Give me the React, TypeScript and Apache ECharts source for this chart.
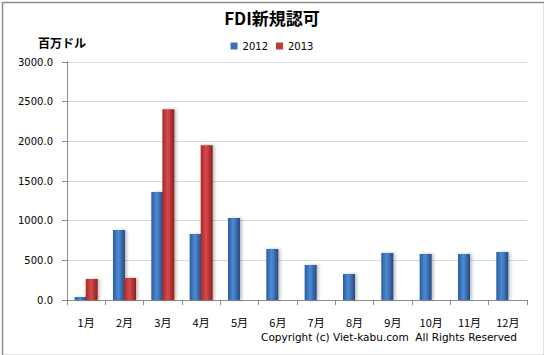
import React, { useEffect, useRef } from "react";
import * as echarts from "echarts";

const categories = ["1月", "2月", "3月", "4月", "5月", "6月", "7月", "8月", "9月", "10月", "11月", "12月"];
const series2012 = [38, 883, 1362, 832, 1034, 643, 441, 328, 593, 580, 580, 605];
const series2013: (number | null)[] = [265, 277, 2405, 1950, null, null, null, null, null, null, null, null];
const yTicks = [0, 500, 1000, 1500, 2000, 2500, 3000];

const blueGrad = new echarts.graphic.LinearGradient(0, 0, 1, 0, [
  { offset: 0, color: "#2d5c9e" },
  { offset: 0.45, color: "#4d8bd6" },
  { offset: 1, color: "#24497e" },
]);
const redGrad = new echarts.graphic.LinearGradient(0, 0, 1, 0, [
  { offset: 0, color: "#a42a2a" },
  { offset: 0.45, color: "#d84a4a" },
  { offset: 1, color: "#8a2020" },
]);

export default function App() {
  const ref = useRef<HTMLDivElement>(null);
  useEffect(() => {
    document.body.style.margin = "0";
    const chart = echarts.init(ref.current!, null, { renderer: "svg" });
    const font = "DejaVu Sans";
    chart.setOption({
      animation: false,
      backgroundColor: "#ffffff",
      title: {
        text: "FDI新規認可",
        left: "center",
        top: 4,
        textStyle: { fontFamily: "Noto Sans CJK JP", fontSize: 17, fontWeight: "bold", color: "#000" },
      },
      legend: {
        top: 36,
        left: "center",
        itemWidth: 7,
        itemHeight: 7,
        itemGap: 8,
        icon: "rect",
        textStyle: { fontFamily: font, fontSize: 10, color: "#000" },
        data: [
          { name: "2012", itemStyle: { color: "#3a70b8" } },
          { name: "2013", itemStyle: { color: "#c03a3a" } },
        ],
      },
      graphic: [
        {
          type: "rect",
          left: 0,
          top: 0,
          shape: { width: 542, height: 353 },
          style: { fill: "none", stroke: "#8c8c8c", lineWidth: 1.5 },
        },
        {
          type: "text",
          left: 38,
          top: 36,
          style: { text: "百万ドル", fontFamily: "Noto Sans CJK JP", fontSize: 12, fontWeight: "bold", fill: "#000" },
        },
        {
          type: "text",
          right: 27,
          top: 331,
          style: {
            text: "Copyright (c) Viet-kabu.com  All Rights Reserved",
            fontFamily: font,
            fontSize: 10.5,
            fill: "#000",
          },
        },
      ],
      grid: { left: 67, right: 17, top: 62, bottom: 55, containLabel: false },
      xAxis: {
        type: "category",
        data: categories,
        axisLine: { lineStyle: { color: "#8c8c8c" } },
        axisTick: { show: true, length: 5, lineStyle: { color: "#8c8c8c" } },
        axisLabel: { margin: 16, fontFamily: "Noto Sans CJK JP", fontSize: 11, color: "#000" },
      },
      yAxis: {
        type: "value",
        min: 0,
        max: 3000,
        interval: 500,
        axisLine: { show: true, lineStyle: { color: "#8c8c8c" } },
        axisTick: { show: true, length: 5, lineStyle: { color: "#8c8c8c" } },
        splitLine: { lineStyle: { color: "#d9d9d9" } },
        axisLabel: {
          fontFamily: font,
          fontSize: 10,
          color: "#000",
          margin: 14,
          formatter: (v: number) => (yTicks.includes(v) ? v.toFixed(1) : ""),
        },
      },
      series: [
        {
          name: "2012",
          type: "bar",
          data: series2012,
          barWidth: 12,
          barGap: "-8%",
          itemStyle: { color: blueGrad, shadowColor: "rgba(0,0,0,0.25)", shadowBlur: 3, shadowOffsetX: 2 },
        },
        {
          name: "2013",
          type: "bar",
          data: series2013,
          barWidth: 12,
          itemStyle: { color: redGrad, shadowColor: "rgba(0,0,0,0.25)", shadowBlur: 3, shadowOffsetX: 2 },
        },
      ],
    });
    return () => chart.dispose();
  }, []);
  return <div ref={ref} style={{ width: 544, height: 355 }} />;
}
